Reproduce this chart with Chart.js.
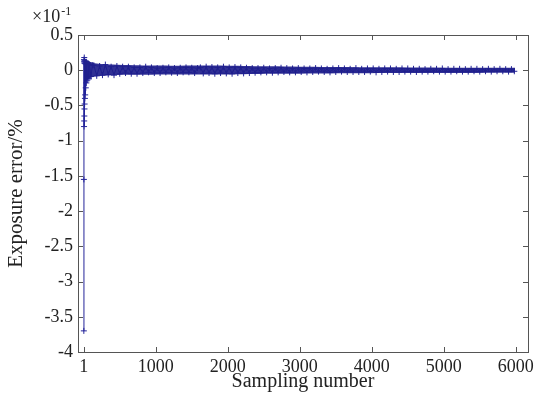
<!DOCTYPE html>
<html>
<head>
<meta charset="utf-8">
<script src="https://cdn.jsdelivr.net/npm/chart.js@4/dist/chart.umd.min.js"></script>
<style>
html,body{margin:0;padding:0;background:#fff;}
#wrap{width:545px;height:394px;position:relative;}
</style>
</head>
<body>
<div id="wrap"><canvas id="c" width="545" height="394"></canvas></div>
<script>
// ---- data ----
const sampleNumber = [
  1,2,3,4,5,6,7,8,9,10,11,12,14,16,18,20,24,28,32,36,40,50,60,70,80,100,120,
  140,180,220,260,300,340,380,420,460,500,
  540,580,620,660,700,740,780,820,860,900,940,980,
  1020,1060,1100,1140,1180,1220,1260,1300,1340,1380,1420,1460,1500,1540,1580,
  1620,1660,1700,1740,1780,1820,1860,1900,1940,1980,2020,2060,2100,2140,2180,2220,2260,2300,
  2340,2380,2420,2460,2500,2540,2580,2620,2660,2700,2740,2780,2820,2860,2900,2940,2980,3020,
  3060,3100,3140,3180,3220,3260,3300,3340,3380,3420,3460,3500,3540,3580,3620,3660,3700,3740,3780,3820,3860,3900,3940,3980,4020,4060,4100,4140,4180,4220,4260,4300,4340,4380,4420,4460,4500,
  4540,4580,4620,4660,4700,4740,4780,4820,4860,4900,4940,4980,5020,5060,5100,5140,5180,5220,5260,5300,5340,5380,5420,5460,5500,5540,5580,5620,5660,5700,5740,5780,5820,5860,5900,5940,5980
];
const exposureError = [
  -3.7,-1.55,0.15,-0.80,0.12,-0.72,0.18,-0.65,0.10,-0.55,0.14,-0.48,0.12,-0.40,0.10,-0.35,0.09,-0.25,0.12,-0.18,0.08,-0.14,0.10,-0.12,0.08,-0.09,0.07,
  0.07,-0.08,0.06,-0.07,0.08,-0.06,0.05,-0.07,0.06,-0.05,
  0.05,-0.04,0.05,-0.05,0.04,-0.05,0.04,-0.04,0.05,-0.03,0.04,-0.04,
  0.03,-0.04,0.035,-0.03,0.04,-0.035,0.03,-0.04,0.035,-0.03,0.04,-0.03,0.035,-0.04,0.03,
  0.04,-0.045,0.05,-0.04,0.045,-0.05,0.04,-0.04,0.05,-0.045,0.04,-0.05,0.045,-0.04,0.04,-0.045,0.035,-0.04,
  0.03,-0.035,0.03,-0.03,0.035,-0.03,0.025,-0.035,0.03,-0.03,0.035,-0.025,0.03,-0.03,0.025,-0.03,0.03,-0.025,
  0.025,-0.03,0.025,-0.025,0.03,-0.02,0.025,-0.025,0.02,-0.03,0.025,-0.025,0.03,-0.02,0.025,-0.025,0.02,-0.025,0.03,-0.025,0.02,-0.025,0.025,-0.02,0.025,-0.03,0.02,-0.025,0.025,-0.02,0.025,-0.025,0.02,-0.025,0.025,-0.02,0.025,
  -0.02,0.02,-0.025,0.02,-0.02,0.015,-0.02,0.02,-0.015,0.02,-0.02,0.025,-0.02,0.015,-0.02,0.02,-0.015,0.02,-0.02,0.015,-0.02,0.02,-0.015,0.02,-0.02,0.015,-0.015,0.02,-0.02,0.015,-0.015,0.02,-0.015,0.015,-0.02,0.015,-0.015
];
// extent of the dense oscillation band (upper / lower edges)
const bandSample = [4, 40, 150, 400, 700, 1200, 2000, 2600, 3400, 4500, 5990];
const bandUpper  = [0.17, 0.14, 0.10, 0.08, 0.07, 0.065, 0.065, 0.055, 0.045, 0.04, 0.035];
const bandLower  = [-0.18, -0.14, -0.09, -0.07, -0.065, -0.06, -0.06, -0.05, -0.045, -0.04, -0.035];

const xTickValues = [1,1000,2000,3000,4000,5000,6000];
const yTickValues = [0.5,0,-0.5,-1,-1.5,-2,-2.5,-3,-3.5,-4];
const xTitle = 'Sampling number';
const yTitle = 'Exposure error/%';
const yExponent = '-1';

const FONT = "'Liberation Serif', 'DejaVu Serif', serif";
const AXIS = '#555555';
const LINE = '#24249a';
const TEXT = '#222222';

const framePlugin = {
  id: 'frame',
  afterDraw(chart) {
    const ctx = chart.ctx, a = chart.chartArea;
    const xs = chart.scales.x, ys = chart.scales.y;
    ctx.save();
    ctx.strokeStyle = AXIS;
    ctx.lineWidth = 1;
    ctx.strokeRect(Math.round(a.left) + 0.5, Math.round(a.top) + 0.5, Math.round(a.right - a.left), Math.round(a.bottom - a.top));
    const L = 5;
    ctx.beginPath();
    xTickValues.forEach(v => {
      const px = Math.round(xs.getPixelForValue(v)) + 0.5;
      ctx.moveTo(px, a.bottom); ctx.lineTo(px, a.bottom - L);
      ctx.moveTo(px, a.top); ctx.lineTo(px, a.top + L);
    });
    yTickValues.forEach(v => {
      const py = Math.round(ys.getPixelForValue(v)) + 0.5;
      ctx.moveTo(a.left, py); ctx.lineTo(a.left + L, py);
      ctx.moveTo(a.right, py); ctx.lineTo(a.right - L, py);
    });
    ctx.stroke();
    // exponent label
    ctx.fillStyle = TEXT;
    ctx.textBaseline = 'alphabetic';
    ctx.textAlign = 'left';
    ctx.font = '18px ' + FONT;
    const base = '×10';
    const bx = 32, by = 22;
    ctx.fillText(base, bx, by);
    const w = ctx.measureText(base).width;
    ctx.font = '12px ' + FONT;
    ctx.fillText(yExponent, bx + w + 1, by - 7);
    ctx.restore();
  }
};

new Chart(document.getElementById('c'), {
  type: 'line',
  data: {
    datasets: [{
      data: bandSample.map((x, i) => ({x: x, y: bandUpper[i]})),
      borderWidth: 0,
      borderColor: 'rgba(0,0,0,0)',
      pointRadius: 0,
      backgroundColor: 'rgba(30,30,140,0.92)',
      fill: '+1',
      tension: 0.3
    }, {
      data: bandSample.map((x, i) => ({x: x, y: bandLower[i]})),
      borderWidth: 0,
      borderColor: 'rgba(0,0,0,0)',
      pointRadius: 0,
      fill: false,
      tension: 0.3
    }, {
      data: sampleNumber.map((x, i) => ({x: x, y: exposureError[i]})),
      borderColor: LINE,
      backgroundColor: LINE,
      borderWidth: 1,
      pointStyle: 'cross',
      pointRadius: 3,
      pointBorderWidth: 1,
      pointBorderColor: LINE,
      tension: 0,
      fill: false
    }]
  },
  options: {
    responsive: false,
    animation: false,
    layout: {padding: {left: 0, right: 17, top: 35, bottom: 0}},
    plugins: {legend: {display: false}, tooltip: {enabled: false}},
    scales: {
      x: {
        type: 'linear',
        min: -80, max: 6170,
        afterBuildTicks(s) { s.ticks = xTickValues.map(v => ({value: v})); },
        afterFit(s) { s.height = 42; },
        grid: {display: false, drawTicks: false},
        border: {display: false},
        ticks: {color: TEXT, font: {family: FONT, size: 18}, padding: 4, maxRotation: 0, autoSkip: false,
          callback: v => String(v)},
        title: {display: true, text: xTitle, color: TEXT, font: {family: FONT, size: 20}, padding: {top: 0, bottom: 0}}
      },
      y: {
        type: 'linear',
        min: -4, max: 0.5,
        afterBuildTicks(s) { s.ticks = yTickValues.map(v => ({value: v})); },
        afterFit(s) { s.width = 78; },
        grid: {display: false, drawTicks: false},
        border: {display: false},
        ticks: {color: TEXT, font: {family: FONT, size: 18}, padding: 5, autoSkip: false,
          callback: v => String(v)},
        title: {display: true, text: yTitle, color: TEXT, font: {family: FONT, size: 21}, padding: {top: 4, bottom: 0}}
      }
    }
  },
  plugins: [framePlugin]
});
</script>
</body>
</html>
